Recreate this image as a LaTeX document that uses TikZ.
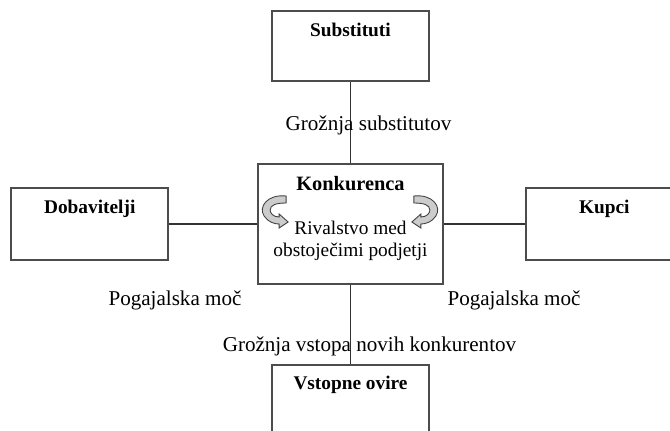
\documentclass[tikz,border=0pt]{standalone}
\usepackage{fontspec}
\setmainfont{Liberation Serif}
\usepackage{tikz}
\usetikzlibrary{positioning}
\tikzset{
    block/.style={rectangle, draw=black!70, line width=1pt, minimum width=3.14cm, inner ysep=0pt, text height=0.5cm, text depth=0.94cm, font=\fontsize{11}{13}\selectfont\bfseries},
    block_k/.style={block, minimum width=3.7cm, text height=0.52cm, text depth=1.88cm, font=\fontsize{11.6}{13}\selectfont\bfseries},
    conn/.style={draw=black!80, line width=0.7pt},
    lbl/.style={font=\fontsize{12}{14}\selectfont, inner sep=0pt},
    note/.style={font=\fontsize{11}{12.5}\selectfont, align=center, inner sep=0pt},
    rival/.style={draw=black!75, line width=0.5pt, fill=gray!40},
    rivalarrow/.pic={
        \filldraw[rival, x=0.02cm, y=-0.02cm] (25,3) .. controls (6,1) and (-3,14) .. (3,23) .. controls (7,29) and (13,31) .. (18,31) -- (18,35) -- (27,29) -- (18,21) -- (18,24) .. controls (12,24) and (9,20) .. (9,17) .. controls (9,12) and (15,10) .. (25,10) -- cycle;
    },
}

\begin{document}
\begin{tikzpicture}
\useasboundingbox (0,0) rectangle (13.4,-8.6);
\clip (0,0) rectangle (13.4,-8.6);
% Konkurenca
\node[block_k] (konk) at (7.01,-4.48) {Konkurenca};
\node[note] (rival) at ([yshift=-1.56cm]konk.north) {Rivalstvo med\\obstoječimi podjetji};
\pic at ([shift={(0.08,0.62)}]konk.west) {rivalarrow};
\pic[xscale=-1] at ([shift={(-0.1,0.62)}]konk.east) {rivalarrow};
% Substituti
\node[block, above=1.62cm of konk, text depth=0.9cm] (subst) {Substituti};
% Dobavitelji
\node[block, left=1.76cm of konk] (dob) {Dobavitelji};
% Kupci
\node[block, right=1.62cm of konk] (kupci) {Kupci};
% Vstopne ovire
\node[block, below=1.58cm of konk, text depth=1.1cm] (vstop) {Vstopne ovire};

% connectors
\draw[conn] (subst) -- (konk) node[midway, lbl, xshift=0.36cm, yshift=-0.05cm] {Grožnja substitutov};
\draw[conn] (dob) -- (konk);
\draw[conn] (konk) -- (kupci);
\draw[conn] (konk) -- (vstop) node[pos=0.78, lbl, xshift=0.38cm] {Grožnja vstopa novih konkurentov};

% bargaining power
\node[lbl, anchor=base] (pog_d) at (3.5,-6.1) {Pogajalska moč};
\node[lbl, anchor=base] (pog_k) at (10.28,-6.1) {Pogajalska moč};
\end{tikzpicture}
\end{document}
